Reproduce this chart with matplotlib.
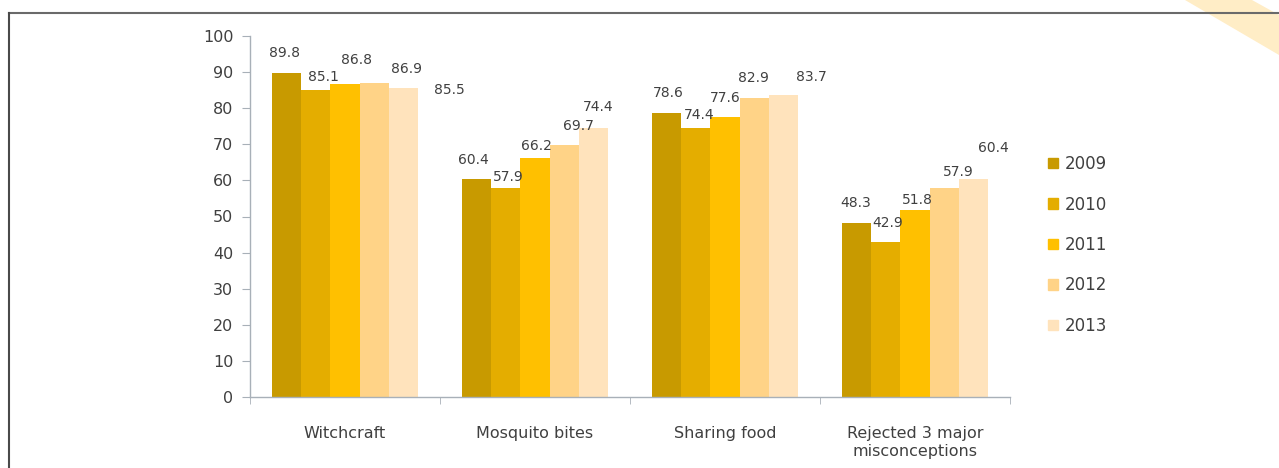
import matplotlib
matplotlib.use("Agg")
import matplotlib.pyplot as plt
import matplotlib.patches as mpatches
import matplotlib.lines as mlines
import numpy as np

plt.rcParams['font.family'] = ['DejaVu Sans']

categories = ['Witchcraft', 'Mosquito bites', 'Sharing food',
              'Rejected 3 major\nmisconceptions']
years = ['2009', '2010', '2011', '2012', '2013']
values = {
    '2009': [89.8, 60.4, 78.6, 48.3],
    '2010': [85.1, 57.9, 74.4, 42.9],
    '2011': [86.8, 66.2, 77.6, 51.8],
    '2012': [86.9, 69.7, 82.9, 57.9],
    '2013': [85.5, 74.4, 83.7, 60.4],
}
colors = ['#C89A00', '#E4AD00', '#FFC000', '#FFD387', '#FFE3BC']

# value labels drift away from their bars; offsets in pixels (dx, dy) per year, per group
label_offsets = [
    [(-2, 20), (-3, 19), (1, 20), (-1, 20)],
    [(8, 13), (2, 11), (3, 13), (2, 19)],
    [(12, 24), (1, 12), (0, 19), (2, 10)],
    [(32, 14), (14, 19), (-1, 20), (14, 16)],
    [(46, -2), (5, 21), (28, 18), (20, 31)],
]

text_color = '#404040'
axis_color = '#A8B0B8'

fig = plt.figure(figsize=(12.79, 4.68), dpi=100)
ax = fig.add_axes([250 / 1279, 1 - 397 / 468, 760 / 1279, 361 / 468])

x = np.arange(len(categories))
w = 0.153
for j, yr in enumerate(years):
    b = ax.bar(x + (j - 2) * w, values[yr], width=w, color=colors[j],
               label=yr, zorder=2)
    for i, rect in enumerate(b):
        dx, dy = label_offsets[j][i]
        ax.annotate(f'{values[yr][i]:.1f}',
                    (rect.get_x() + rect.get_width() / 2, rect.get_height()),
                    xytext=(dx, dy), textcoords='offset pixels',
                    ha='center', va='center', fontsize=10, color=text_color)

ax.set_xlim(-0.5, 3.5)
ax.set_ylim(0, 100)
ax.set_yticks(range(0, 101, 10))
ax.set_xticks(x)
ax.set_xticklabels(categories, fontsize=11.5, color=text_color,
                   linespacing=1.2, va='top')
ax.set_xticks(np.arange(-0.5, 4.0, 1.0), minor=True)
ax.tick_params(axis='x', which='major', length=0, pad=21)
ax.tick_params(axis='x', which='minor', length=5, color=axis_color, direction='out')
ax.tick_params(axis='y', length=6, color=axis_color, labelsize=11.5,
               labelcolor=text_color, pad=6)

for s in ['top', 'right']:
    ax.spines[s].set_visible(False)
for s in ['left', 'bottom']:
    ax.spines[s].set_color(axis_color)
    ax.spines[s].set_linewidth(1.0)

handles = [mpatches.Patch(color=c) for c in colors]
fig.legend(handles, years, loc='center left',
           bbox_to_anchor=(1033 / 1279, 1 - 245 / 468),
           frameon=False, fontsize=12, labelcolor=text_color,
           handlelength=0.6, handleheight=0.6, handletextpad=0.4,
           labelspacing=1.35)

# pale orange ribbon in the top right corner
corner = [(1185, 0), (1252, 0), (1279, 15), (1279, 55)]
fig.add_artist(mpatches.Polygon([(px / 1279, 1 - py / 468) for px, py in corner],
                                closed=True, facecolor='#FFEDC6', edgecolor='none',
                                transform=fig.transFigure, zorder=0))

# frame lines along the top and left edges
fig.add_artist(mlines.Line2D([9 / 1279, 1], [1 - 13 / 468, 1 - 13 / 468],
                             color='#6A6A6A', lw=1.5, transform=fig.transFigure))
fig.add_artist(mlines.Line2D([9 / 1279, 9 / 1279], [0, 1 - 13 / 468],
                             color='#4A4A4A', lw=1.5, transform=fig.transFigure))

fig.savefig('out.png', dpi=100)
